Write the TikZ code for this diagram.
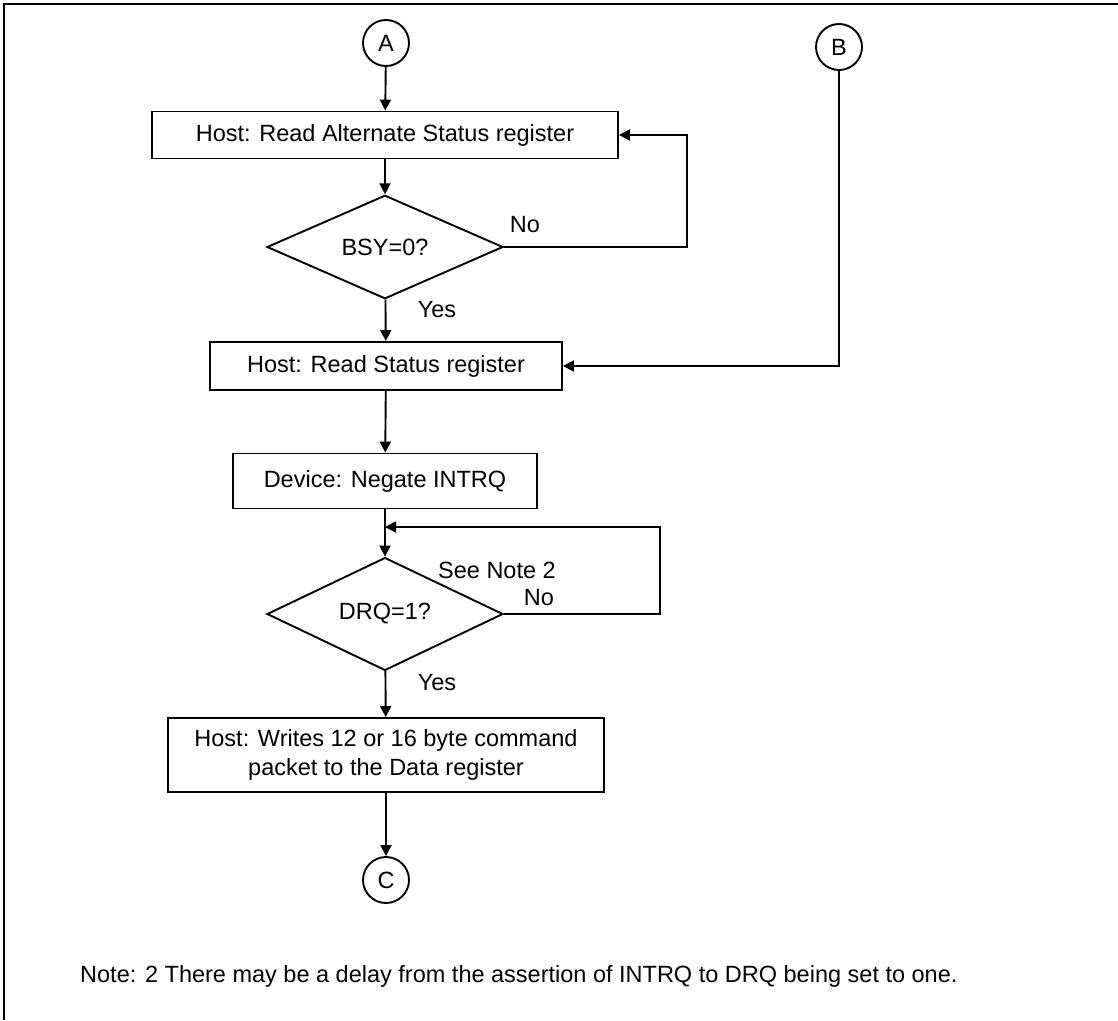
\documentclass[tikz,border=0pt]{standalone}
\usepackage{fontspec}
\setmainfont{Liberation Sans}
\usetikzlibrary{shapes.geometric,arrows.meta}
\begin{document}
\begin{tikzpicture}[x=1pt,y=-1pt,
  every node/.style={font=\fontsize{23.5}{29}\selectfont},
  proc/.style={draw, line width=1.9pt, rectangle, inner sep=0pt, align=center},
  dec/.style={draw, line width=1.9pt, diamond, inner sep=0pt, minimum width=236pt, minimum height=103pt},
  conn/.style={draw, line width=1.9pt, circle, inner sep=0pt, minimum size=46pt},
  flow/.style={line width=1.9pt, -{Triangle[length=11pt,width=11pt]}},
  plain/.style={line width=1.9pt},
  lbl/.style={inner sep=0pt}]
\useasboundingbox (0,0) rectangle (1118,1020);
\draw[line width=2.4pt] (4,1020) -- (4,4) -- (1118,4);

\node[conn] (A) at (386,43) {A};
\node[conn] (B) at (839,47) {B};
\node[proc, minimum width=466pt, minimum height=47pt] (b1) at (385,135) {Host: Read Alternate Status register};
\node[dec] (d1) at (385,247) {\raisebox{-5pt}{BSY=0?}};
\node[proc, minimum width=352pt, minimum height=48pt] (b2) at (386,366) {Host: Read Status register};
\node[proc, minimum width=304pt, minimum height=55pt] (b3) at (385,481) {Device: Negate INTRQ};
\node[dec] (d2) at (385,614) {\raisebox{-12pt}{DRQ=1?}};
\node[proc, minimum width=436pt, minimum height=74pt] (b4) at (386,755) {Host: Writes 12 or 16 byte command\\packet to the Data register};
\node[conn] (C) at (386,880) {C};

\coordinate (r1) at (687,247);
\coordinate (r2) at (660,614);
\coordinate (j) at (385,527);

\draw[flow] (A) -- (b1);
\draw[flow] (b1) -- (d1);
\draw[flow] (d1) -- (b2);
\draw[flow] (d1.east) -- (r1) -- (r1 |- b1.east) -- (b1.east);
\draw[flow] (B) |- (b2.east);
\draw[flow] (b2) -- (b3);
\draw[plain] (b3) -- (j);
\draw[flow] (j) -- (d2);
\draw[flow] (d2.east) -- (r2) -- (r2 |- j) -- (j);
\draw[flow] (d2) -- (b4);
\draw[flow] (b4) -- (C);

\node[lbl] (no1) at (525,225) {No};
\node[lbl] (yes1) at (437,310) {Yes};
\node[lbl] (see) at (497,570) {See Note 2};
\node[lbl] (no2) at (539,598) {No};
\node[lbl] (yes2) at (437,683) {Yes};
\node[lbl, anchor=west] (note) at (80,976) {Note: 2 There may be a delay from the assertion of INTRQ to DRQ being set to one.};
\end{tikzpicture}
\end{document}
